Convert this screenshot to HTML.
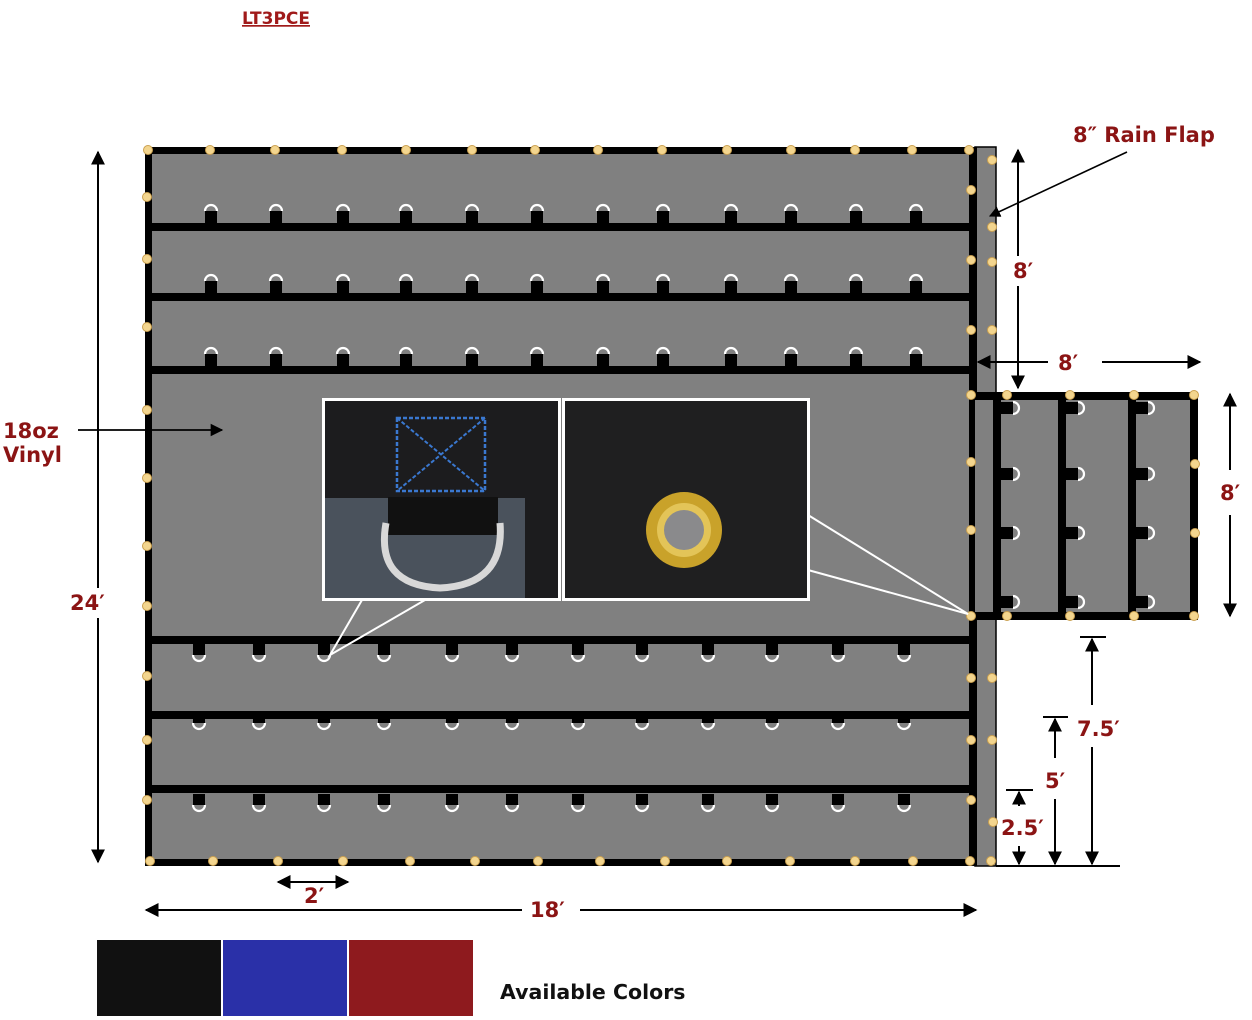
<!DOCTYPE html>
<html><head><meta charset="utf-8"><style>
html,body{margin:0;padding:0;background:#fff;}
svg{display:block}
.t{font-family:"DejaVu Sans","Liberation Sans",sans-serif;font-weight:bold;fill:#8b1414;font-size:21px}
</style></head><body>
<svg width="1252" height="1020" viewBox="0 0 1252 1020" xmlns="http://www.w3.org/2000/svg">
<defs>
<marker id="ah" viewBox="0 0 10 10" refX="9" refY="5" markerWidth="7" markerHeight="7" orient="auto-start-reverse"><path d="M0,0 L10,5 L0,10 z" fill="#000"/></marker>
<g id="g"><circle r="4.5" fill="#f3d58e" stroke="#caa050" stroke-width="1"/></g>
<g id="du"><rect x="-6" y="-11" width="12" height="12" fill="#000"/><path d="M-6,-11 A6,6 0 0 1 6,-11" fill="none" stroke="#fff" stroke-width="2.2"/></g>
<g id="dd"><rect x="-6" y="-1" width="12" height="11" fill="#000"/><path d="M-6,10 A6,6 0 0 0 6,10" fill="none" stroke="#fff" stroke-width="2.2"/></g>
<g id="dr"><rect x="-1" y="-6" width="12" height="12" fill="#000"/><path d="M11,-6 A6,6 0 0 1 11,6" fill="none" stroke="#fff" stroke-width="2.2"/></g>
</defs>

<text x="242" y="24" font-family="DejaVu Sans,Liberation Sans,sans-serif" font-weight="bold" font-size="17" fill="#a01a1a" text-decoration="underline">LT3PCE</text>

<rect x="145" y="147" width="830" height="719" fill="#808080"/>
<rect x="975" y="147" width="21" height="719" fill="#808080" stroke="#000" stroke-width="1.5"/>
<rect x="145" y="147" width="830" height="7" fill="#000"/>
<rect x="145" y="859" width="830" height="7" fill="#000"/>
<rect x="145" y="147" width="7" height="719" fill="#000"/>
<rect x="969" y="147" width="8" height="719" fill="#000"/>
<rect x="145" y="223" width="830" height="8" fill="#000"/>
<rect x="145" y="293" width="830" height="8" fill="#000"/>
<rect x="145" y="366" width="830" height="8" fill="#000"/>
<rect x="145" y="636" width="830" height="8" fill="#000"/>
<rect x="145" y="711" width="830" height="8" fill="#000"/>
<rect x="145" y="785" width="830" height="8" fill="#000"/>

<rect x="975" y="392" width="223" height="228" fill="#808080"/>
<rect x="975" y="392" width="223" height="8" fill="#000"/>
<rect x="975" y="612" width="223" height="8" fill="#000"/>
<rect x="1190" y="392" width="8" height="228" fill="#000"/>
<rect x="993" y="392" width="8" height="228" fill="#000"/>
<rect x="1058" y="392" width="8" height="228" fill="#000"/>
<rect x="1128" y="392" width="8" height="228" fill="#000"/>

<g id="r1">
<use href="#du" x="211" y="222"/><use href="#du" x="276" y="222"/><use href="#du" x="343" y="222"/><use href="#du" x="406" y="222"/><use href="#du" x="472" y="222"/><use href="#du" x="537" y="222"/><use href="#du" x="603" y="222"/><use href="#du" x="663" y="222"/><use href="#du" x="731" y="222"/><use href="#du" x="791" y="222"/><use href="#du" x="856" y="222"/><use href="#du" x="916" y="222"/>
</g>
<use href="#r1" y="70"/>
<use href="#r1" y="143"/>

<g id="r2">
<use href="#dd" x="199" y="645"/><use href="#dd" x="259" y="645"/><use href="#dd" x="324" y="645"/><use href="#dd" x="384" y="645"/><use href="#dd" x="452" y="645"/><use href="#dd" x="512" y="645"/><use href="#dd" x="578" y="645"/><use href="#dd" x="642" y="645"/><use href="#dd" x="708" y="645"/><use href="#dd" x="772" y="645"/><use href="#dd" x="838" y="645"/><use href="#dd" x="904" y="645"/>
</g>
<use href="#r2" y="68"/>
<use href="#r2" y="150"/>

<g id="r3"><use href="#dr" x="1002" y="408"/><use href="#dr" x="1002" y="474"/><use href="#dr" x="1002" y="533"/><use href="#dr" x="1002" y="602"/></g>
<use href="#r3" x="65"/>
<use href="#r3" x="135"/>

<g>
<use href="#g" x="148" y="150"/><use href="#g" x="210" y="150"/><use href="#g" x="275" y="150"/><use href="#g" x="342" y="150"/><use href="#g" x="406" y="150"/><use href="#g" x="472" y="150"/><use href="#g" x="535" y="150"/><use href="#g" x="598" y="150"/><use href="#g" x="662" y="150"/><use href="#g" x="727" y="150"/><use href="#g" x="791" y="150"/><use href="#g" x="855" y="150"/><use href="#g" x="912" y="150"/><use href="#g" x="969" y="150"/>
<use href="#g" x="150" y="861"/><use href="#g" x="213" y="861"/><use href="#g" x="278" y="861"/><use href="#g" x="343" y="861"/><use href="#g" x="410" y="861"/><use href="#g" x="475" y="861"/><use href="#g" x="538" y="861"/><use href="#g" x="600" y="861"/><use href="#g" x="665" y="861"/><use href="#g" x="727" y="861"/><use href="#g" x="790" y="861"/><use href="#g" x="855" y="861"/><use href="#g" x="913" y="861"/><use href="#g" x="970" y="861"/><use href="#g" x="991" y="861"/>
<use href="#g" x="147" y="197"/><use href="#g" x="147" y="259"/><use href="#g" x="147" y="327"/><use href="#g" x="147" y="410"/><use href="#g" x="147" y="478"/><use href="#g" x="147" y="546"/><use href="#g" x="147" y="606"/><use href="#g" x="147" y="676"/><use href="#g" x="147" y="740"/><use href="#g" x="147" y="800"/>
<use href="#g" x="971" y="190"/><use href="#g" x="971" y="260"/><use href="#g" x="971" y="330"/><use href="#g" x="971" y="395"/><use href="#g" x="971" y="462"/><use href="#g" x="971" y="530"/><use href="#g" x="971" y="616"/><use href="#g" x="971" y="678"/><use href="#g" x="971" y="740"/><use href="#g" x="971" y="800"/>
<use href="#g" x="992" y="160"/><use href="#g" x="992" y="227"/><use href="#g" x="992" y="262"/><use href="#g" x="992" y="330"/><use href="#g" x="992" y="678"/><use href="#g" x="992" y="740"/><use href="#g" x="993" y="822"/>
<use href="#g" x="1007" y="395"/><use href="#g" x="1070" y="395"/><use href="#g" x="1134" y="395"/><use href="#g" x="1194" y="395"/>
<use href="#g" x="1007" y="616"/><use href="#g" x="1070" y="616"/><use href="#g" x="1134" y="616"/><use href="#g" x="1194" y="616"/>
<use href="#g" x="1195" y="464"/><use href="#g" x="1195" y="533"/>
</g>

<path d="M362,600 L330,655 L425,600" fill="none" stroke="#fff" stroke-width="2"/>
<path d="M808,515 L968,614 L808,570" fill="none" stroke="#fff" stroke-width="2"/>

<rect x="322" y="398" width="239" height="203" fill="#fff"/>
<rect x="325" y="401" width="233" height="197" fill="#1c1c1e"/>
<rect x="325" y="498" width="200" height="100" fill="#4a525c"/>
<rect x="388" y="497" width="110" height="38" fill="#111"/>
<rect x="397" y="418" width="88" height="73" fill="none" stroke="#3a78d0" stroke-width="2.5" stroke-dasharray="4,2"/>
<path d="M397,418 L485,491 M485,418 L397,491" stroke="#3a78d0" stroke-width="2" stroke-dasharray="4,2"/>
<path d="M386,523 Q375,585 440,588 Q505,585 500,523" fill="none" stroke="#d8d8d8" stroke-width="7"/>
<rect x="562" y="398" width="248" height="203" fill="#fff"/>
<rect x="565" y="401" width="242" height="197" fill="#1f1f20"/>
<circle cx="684" cy="530" r="38" fill="#c9a22a"/>
<circle cx="684" cy="530" r="27" fill="#e3c458"/>
<circle cx="684" cy="530" r="20" fill="#8a8a8c"/>

<line x1="98" y1="152" x2="98" y2="862" stroke="#000" stroke-width="2" marker-start="url(#ah)" marker-end="url(#ah)"/>
<rect x="66" y="588" width="60" height="30" fill="#fff"/>
<text class="t" x="70" y="610">24′</text>
<line x1="78" y1="430" x2="222" y2="430" stroke="#000" stroke-width="1.8" marker-end="url(#ah)"/>
<rect x="0" y="418" width="70" height="50" fill="#fff"/>
<text class="t" x="3" y="438">18oz</text>
<text class="t" x="3" y="462">Vinyl</text>
<line x1="146" y1="910" x2="976" y2="910" stroke="#000" stroke-width="2" marker-start="url(#ah)" marker-end="url(#ah)"/>
<rect x="522" y="896" width="58" height="28" fill="#fff"/>
<text class="t" x="530" y="917">18′</text>
<line x1="278" y1="882" x2="348" y2="882" stroke="#000" stroke-width="2" marker-start="url(#ah)" marker-end="url(#ah)"/>
<text class="t" x="304" y="903">2′</text>

<line x1="1018" y1="150" x2="1018" y2="388" stroke="#000" stroke-width="2" marker-start="url(#ah)" marker-end="url(#ah)"/>
<rect x="1005" y="256" width="35" height="30" fill="#fff"/>
<text class="t" x="1013" y="278">8′</text>
<line x1="978" y1="362" x2="1048" y2="362" stroke="#000" stroke-width="2" marker-start="url(#ah)"/>
<line x1="1102" y1="362" x2="1200" y2="362" stroke="#000" stroke-width="2" marker-end="url(#ah)"/>
<text class="t" x="1058" y="370">8′</text>
<line x1="1230" y1="394" x2="1230" y2="470" stroke="#000" stroke-width="2" marker-start="url(#ah)"/>
<line x1="1230" y1="515" x2="1230" y2="616" stroke="#000" stroke-width="2" marker-end="url(#ah)"/>
<text class="t" x="1220" y="500">8′</text>
<text class="t" x="1073" y="142">8″ Rain Flap</text>
<line x1="1127" y1="152" x2="990" y2="216" stroke="#000" stroke-width="1.6" marker-end="url(#ah)"/>

<line x1="996" y1="866" x2="1120" y2="866" stroke="#000" stroke-width="2"/>
<line x1="1080" y1="637" x2="1106" y2="637" stroke="#000" stroke-width="2"/>
<line x1="1092" y1="639" x2="1092" y2="705" stroke="#000" stroke-width="2" marker-start="url(#ah)"/>
<line x1="1092" y1="747" x2="1092" y2="864" stroke="#000" stroke-width="2" marker-end="url(#ah)"/>
<text class="t" x="1077" y="736">7.5′</text>
<line x1="1043" y1="717" x2="1068" y2="717" stroke="#000" stroke-width="2"/>
<line x1="1055" y1="719" x2="1055" y2="758" stroke="#000" stroke-width="2" marker-start="url(#ah)"/>
<line x1="1055" y1="799" x2="1055" y2="864" stroke="#000" stroke-width="2" marker-end="url(#ah)"/>
<text class="t" x="1045" y="788">5′</text>
<line x1="1006" y1="790" x2="1033" y2="790" stroke="#000" stroke-width="2"/>
<line x1="1019" y1="792" x2="1019" y2="806" stroke="#000" stroke-width="2" marker-start="url(#ah)"/>
<line x1="1019" y1="846" x2="1019" y2="864" stroke="#000" stroke-width="2" marker-end="url(#ah)"/>
<text class="t" x="1001" y="835">2.5′</text>

<rect x="97" y="940" width="124" height="76" fill="#111"/>
<rect x="223" y="940" width="124" height="76" fill="#2a30a8"/>
<rect x="349" y="940" width="124" height="76" fill="#8e1a1e"/>
<text x="500" y="999" font-family="DejaVu Sans,Liberation Sans,sans-serif" font-weight="bold" font-size="20.5" fill="#111">Available Colors</text>
</svg>
</body></html>
